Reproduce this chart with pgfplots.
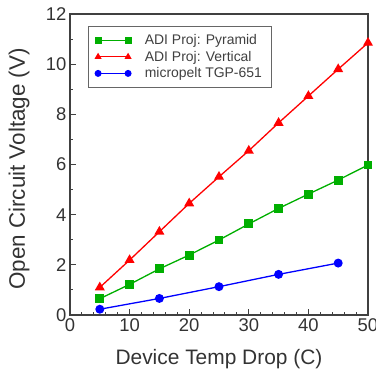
\documentclass[border=0pt]{standalone}
\usepackage{pgfplots}
\pgfplotsset{compat=1.18}
\usepackage{fontspec}
\setmainfont{Liberation Sans}
\definecolor{mygreen}{RGB}{0,175,0}
\definecolor{myred}{RGB}{255,0,0}
\definecolor{myblue}{RGB}{0,0,255}
\begin{document}
\begin{tikzpicture}
\useasboundingbox (-70bp,-59bp) rectangle (306bp,315bp);
\begin{axis}[
  at={(0,0)}, anchor=south west,
  scale only axis, width=298bp, height=301bp,
  xmin=0, xmax=50, ymin=0, ymax=12,
  xtick={0,10,...,50}, ytick={0,2,...,12},
  minor x tick num=4, minor y tick num=1,
  tick pos=left, tick align=inside,
  major tick length=6bp, minor tick length=3.5bp,
  axis line style={draw=black!75, line width=1.6bp},
  every tick/.style={black!75, line width=1bp},
  tick label style={font=\fontsize{18.5}{20}\selectfont, text=black!80},
  label style={font=\fontsize{21}{24}\selectfont, text=black!80},
  /pgf/number format/assume math mode=true,
  xlabel={Device Temp Drop (C)},
  ylabel={Open Circuit Voltage (V)},
  xlabel style={at={(axis description cs:0.5,-0.166)}, anchor=base},
  ylabel style={at={(axis description cs:-0.171,0.485)}, anchor=center, font=\fontsize{22.5}{25}\selectfont},
  legend style={at={(axis description cs:0.06,0.96)}, anchor=north west,
    draw=black!60, line width=0.8bp, font=\fontsize{14}{16}\selectfont,
    text=black!75, inner xsep=7bp, inner ysep=6bp, row sep=1bp,
    /tikz/every odd column/.append style={column sep=12bp}},
  legend cell align=left,
  legend image code/.code={\draw[#1, mark size=2.8bp] plot coordinates {(0bp,0bp) (30bp,0bp)};},
]
\addplot[color=mygreen, line width=1.3bp, mark=square*, mark size=3.8bp] coordinates {
(5,0.65) (10,1.22) (15,1.84) (20,2.39) (25,2.99) (30,3.63) (35,4.25) (40,4.82) (45,5.38) (50,5.98)};
\addlegendentry{ADI Proj: Pyramid}
\addplot[color=myred, line width=1.3bp, mark=triangle*, mark size=4.5bp] coordinates {
(5,1.10) (10,2.19) (15,3.32) (20,4.45) (25,5.51) (30,6.55) (35,7.66) (40,8.73) (45,9.80) (50,10.85)};
\addlegendentry{ADI Proj: Vertical}
\addplot[color=myblue, line width=1.3bp, mark=*, mark size=3.8bp] coordinates {
(5,0.23) (15,0.66) (25,1.13) (35,1.62) (45,2.07)};
\addlegendentry{micropelt TGP-651}
\end{axis}
\end{tikzpicture}
\end{document}
